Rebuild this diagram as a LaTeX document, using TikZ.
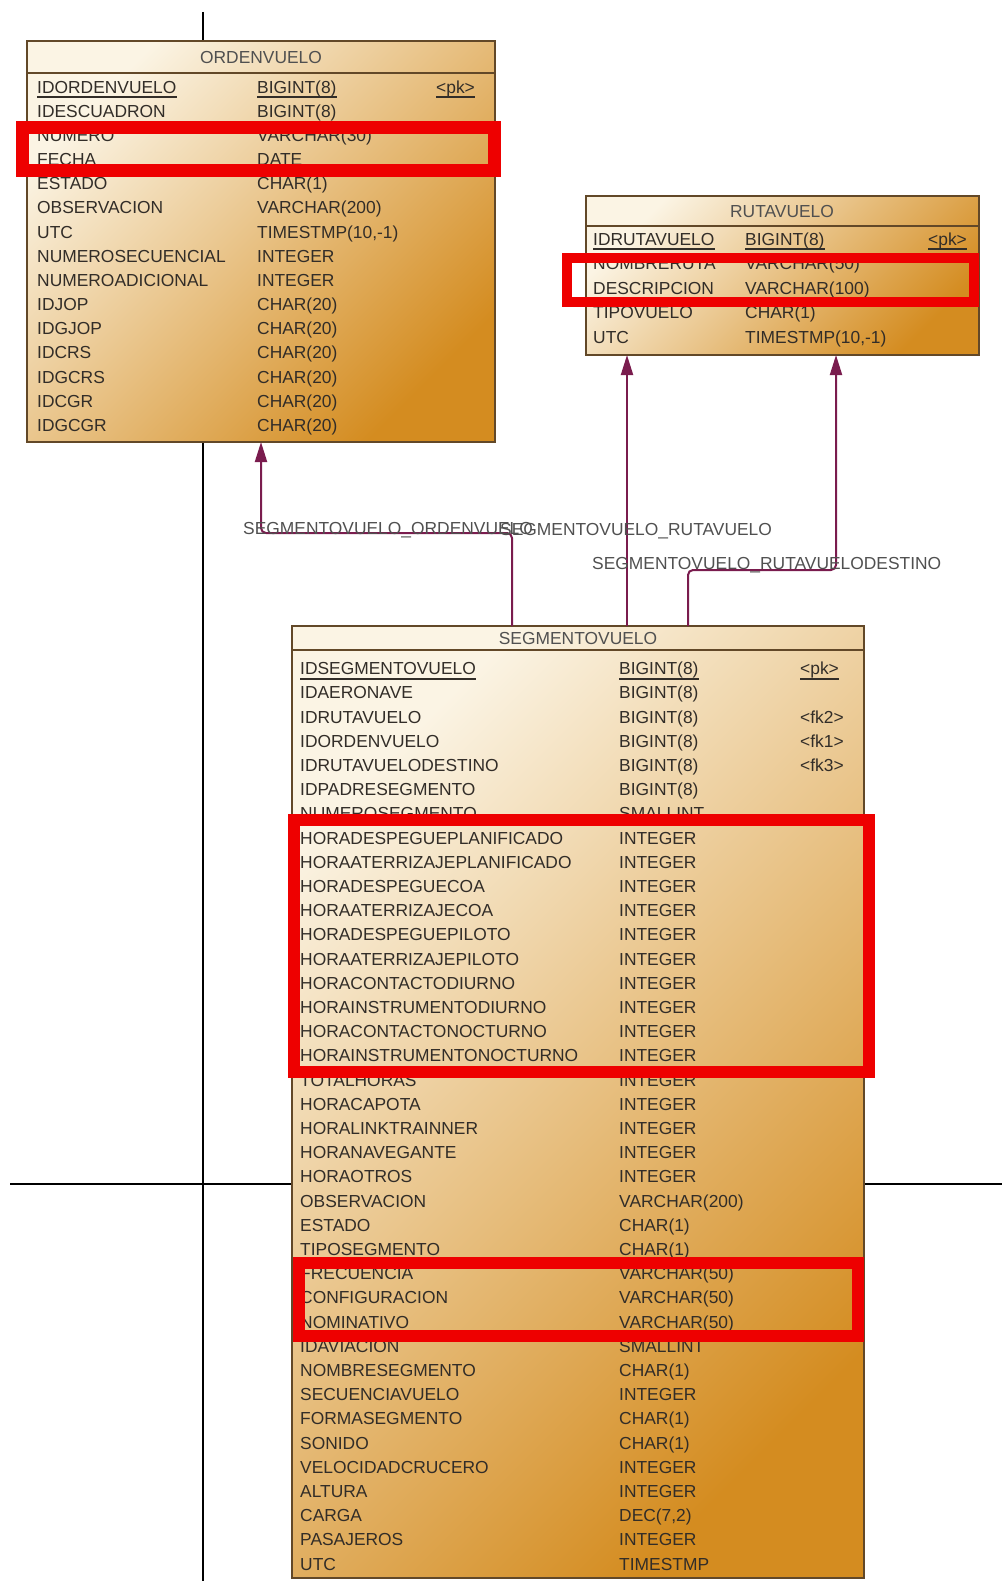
\documentclass[tikz,border=0pt]{standalone}
\usepackage{fontspec}
\setmainfont{Liberation Sans}
\usetikzlibrary{arrows.meta,positioning,calc}
\definecolor{lite}{RGB}{251,244,228}
\definecolor{mid}{RGB}{237,202,142}
\definecolor{dark}{RGB}{212,140,32}
\definecolor{edge}{RGB}{98,72,40}
\definecolor{txt}{RGB}{50,45,40}
\definecolor{gry}{RGB}{80,80,80}
\definecolor{rel}{RGB}{122,28,78}
\definecolor{hilite}{RGB}{238,0,0}
\newcommand\tabfont{\fontsize{17.4}{20}\selectfont}

\begin{document}
\begin{tikzpicture}[x=1pt,y=-1pt,
  tbl/.style={draw=edge,line width=1.6pt,anchor=north west,inner sep=0pt,outer sep=0pt,
    top color=lite,middle color=mid,bottom color=dark,shading angle=45},
  sep/.style={draw=edge,line width=1.6pt},
  ttl/.style={inner sep=0pt,font=\tabfont,text=gry,text height=12.4pt,text depth=0pt},
  fld/.style={anchor=west,inner sep=0pt,font=\tabfont,text=txt,text height=12.4pt,text depth=0pt},
  uline/.style={draw=txt,line width=2pt},
  rel/.style={draw=rel,line width=2pt,rounded corners=5pt,-{Triangle[length=20pt,width=12pt]}},
  rlbl/.style={anchor=west,inner sep=0pt,font=\tabfont,text=gry,text height=12.4pt,text depth=0pt},
  box/.style={draw=hilite}]
\useasboundingbox (0,0) rectangle (1002,1581);
% frame lines behind the tables
\draw[line width=2pt] (203,12) -- (203,1581);
\draw[line width=2pt] (10,1184) -- (1002,1184);

% ORDENVUELO
\node[tbl,minimum width=468pt,minimum height=401pt] (orden) at (27,41) {};
\draw[sep] (27,73) -- (495,73);
\node[ttl] (ordenT) at (261,57) {ORDENVUELO};
\foreach \n/\t [count=\i from 0] in {IDORDENVUELO/BIGINT(8),IDESCUADRON/BIGINT(8),NUMERO/VARCHAR(30),
    FECHA/DATE,ESTADO/CHAR(1),OBSERVACION/VARCHAR(200),UTC/{TIMESTMP(10,-1)},
    NUMEROSECUENCIAL/INTEGER,NUMEROADICIONAL/INTEGER,IDJOP/CHAR(20),IDGJOP/CHAR(20),
    IDCRS/CHAR(20),IDGCRS/CHAR(20),IDCGR/CHAR(20),IDGCGR/CHAR(20)}{
  \node[fld] (on\i) at (37,87+24.15*\i) {\n};
  \node[fld] (ot\i) at (257,87+24.15*\i) {\t};
}
\node[fld] (opk) at (436,87) {<pk>};
\foreach \a in {on0,ot0,opk} \draw[uline] ([yshift=-4pt]\a.south west) -- ([yshift=-4pt]\a.south east);

% RUTAVUELO
\node[tbl,minimum width=393pt,minimum height=159pt] (ruta) at (586,196) {};
\draw[sep] (586,226) -- (979,226);
\node[ttl] (rutaT) at (782,211) {RUTAVUELO};
\foreach \n/\t [count=\i from 0] in {IDRUTAVUELO/BIGINT(8),NOMBRERUTA/VARCHAR(50),
    DESCRIPCION/VARCHAR(100),TIPOVUELO/CHAR(1),UTC/{TIMESTMP(10,-1)}}{
  \node[fld] (rn\i) at (593,239+24.5*\i) {\n};
  \node[fld] (rt\i) at (745,239+24.5*\i) {\t};
}
\node[fld] (rpk) at (928,239) {<pk>};
\foreach \a in {rn0,rt0,rpk} \draw[uline] ([yshift=-4pt]\a.south west) -- ([yshift=-4pt]\a.south east);

% SEGMENTOVUELO
\node[tbl,minimum width=572pt,minimum height=952pt] (seg) at (292,626) {};
\draw[sep] (292,650) -- (864,650);
\node[ttl] (segT) at (578,638) {SEGMENTOVUELO};
\foreach \n/\t [count=\i from 0] in {IDSEGMENTOVUELO/BIGINT(8),IDAERONAVE/BIGINT(8),
    IDRUTAVUELO/BIGINT(8),IDORDENVUELO/BIGINT(8),IDRUTAVUELODESTINO/BIGINT(8),
    IDPADRESEGMENTO/BIGINT(8),NUMEROSEGMENTO/SMALLINT,
    HORADESPEGUEPLANIFICADO/INTEGER,HORAATERRIZAJEPLANIFICADO/INTEGER,
    HORADESPEGUECOA/INTEGER,HORAATERRIZAJECOA/INTEGER,HORADESPEGUEPILOTO/INTEGER,
    HORAATERRIZAJEPILOTO/INTEGER,HORACONTACTODIURNO/INTEGER,HORAINSTRUMENTODIURNO/INTEGER,
    HORACONTACTONOCTURNO/INTEGER,HORAINSTRUMENTONOCTURNO/INTEGER,TOTALHORAS/INTEGER,
    HORACAPOTA/INTEGER,HORALINKTRAINNER/INTEGER,HORANAVEGANTE/INTEGER,HORAOTROS/INTEGER,
    OBSERVACION/VARCHAR(200),ESTADO/CHAR(1),TIPOSEGMENTO/CHAR(1),FRECUENCIA/VARCHAR(50),
    CONFIGURACION/VARCHAR(50),NOMINATIVO/VARCHAR(50),IDAVIACION/SMALLINT,
    NOMBRESEGMENTO/CHAR(1),SECUENCIAVUELO/INTEGER,FORMASEGMENTO/CHAR(1),SONIDO/CHAR(1),
    VELOCIDADCRUCERO/INTEGER,ALTURA/INTEGER,CARGA/{DEC(7,2)},PASAJEROS/INTEGER,UTC/TIMESTMP}{
  \node[fld] (sn\i) at (300,668.5+24.2*\i) {\n};
  \node[fld] (st\i) at (619,668.5+24.2*\i) {\t};
}
\node[fld] (spk) at (800,668.5) {<pk>};
\node[fld] (sfk2) at (800,716.9) {<fk2>};
\node[fld] (sfk1) at (800,741.1) {<fk1>};
\node[fld] (sfk3) at (800,765.3) {<fk3>};
\foreach \a in {sn0,st0,spk} \draw[uline] ([yshift=-4pt]\a.south west) -- ([yshift=-4pt]\a.south east);

% relations
\draw[rel] ($(seg.north west)+(220,0)$) |- ($(orden.south west)+(234,91)$) -- ($(orden.south west)+(234,0)$);
\draw[rel] ($(seg.north west)+(335,0)$) -- ($(ruta.south west)+(41,0)$);
\draw[rel] ($(seg.north west)+(396,0)$) |- ($(ruta.south west)+(250,215)$) -- ($(ruta.south west)+(250,0)$);
\node[rlbl] (l1) at (243,528) {SEGMENTOVUELO\_ORDENVUELO};
\node[rlbl] (l2) at (500,529) {SEGMENTOVUELO\_RUTAVUELO};
\node[rlbl] (l3) at (592,563) {SEGMENTOVUELO\_RUTAVUELODESTINO};

% red marks
\draw[box,line width=13pt] (22,127.5) rectangle (494,170.5);
\draw[box,line width=10pt] (567,257.5) rectangle (974,302);
\draw[box,line width=12pt] (293.5,819.5) rectangle (869,1072);
\draw[box,line width=12pt] (298.5,1262.5) rectangle (858,1336);
\end{tikzpicture}
\end{document}
